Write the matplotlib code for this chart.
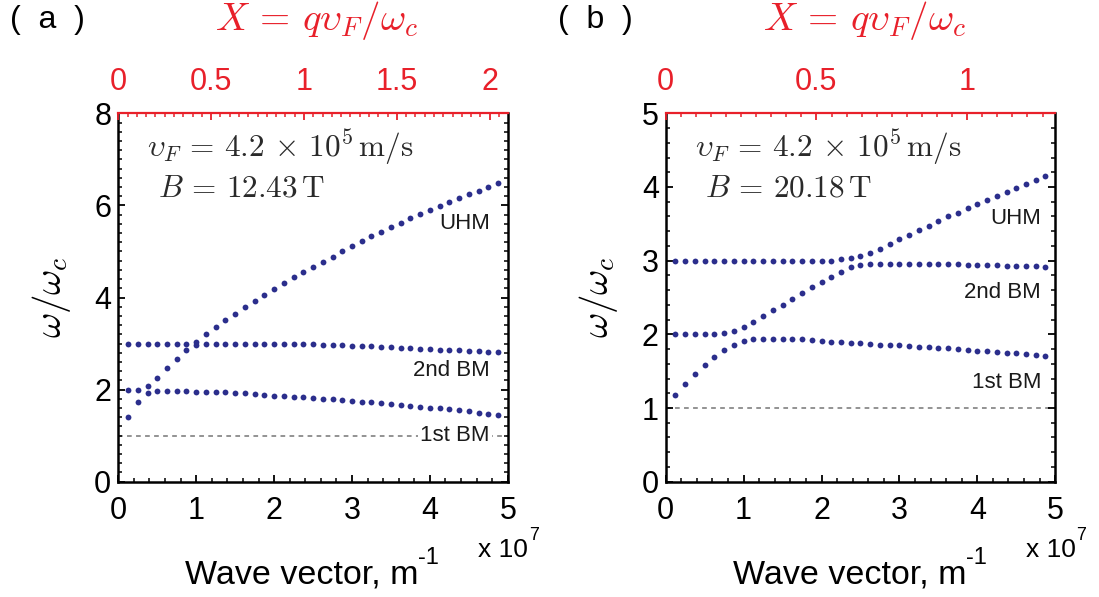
import numpy as np
import matplotlib.pyplot as plt
from matplotlib.ticker import MultipleLocator

plt.rcParams['font.family'] = ['Liberation Sans', 'DejaVu Sans']
plt.rcParams['mathtext.fontset'] = 'cm'

my_red = '#E8202A'
my_blue = '#2B2E8C'
my_gray = '#8A8A8A'

# wave vector in units of 1e7 m^-1
q = [0.125, 0.25, 0.375, 0.5, 0.625, 0.75, 0.875, 1.0, 1.125, 1.25,
     1.375, 1.5, 1.625, 1.75, 1.875, 2.0, 2.125, 2.25, 2.375, 2.5,
     2.625, 2.75, 2.875, 3.0, 3.125, 3.25, 3.375, 3.5, 3.625, 3.75,
     3.875, 4.0, 4.125, 4.25, 4.375, 4.5, 4.625, 4.75, 4.875]

# (a) B = 12.43 T
a_low = [1.41, 1.72, 1.93, 1.96, 1.96, 1.96, 1.96, 1.95, 1.95, 1.94,
         1.94, 1.93, 1.92, 1.90, 1.89, 1.87, 1.86, 1.85, 1.83, 1.82,
         1.80, 1.79, 1.77, 1.76, 1.74, 1.72, 1.71, 1.69, 1.67, 1.65,
         1.63, 1.61, 1.59, 1.57, 1.55, 1.53, 1.50, 1.48, 1.45]
a_mid = [2.00, 2.00, 2.07, 2.26, 2.47, 2.67, 2.85, 2.97, 3.00, 3.00,
         3.00, 3.00, 3.00, 2.99, 2.99, 2.99, 2.99, 2.98, 2.98, 2.98,
         2.97, 2.97, 2.96, 2.95, 2.95, 2.94, 2.93, 2.92, 2.91, 2.90,
         2.89, 2.88, 2.87, 2.86, 2.85, 2.84, 2.83, 2.82, 2.81]
a_up = [3.00, 3.00, 3.00, 3.00, 3.00, 3.00, 3.00, 3.04, 3.20, 3.36,
        3.51, 3.65, 3.79, 3.93, 4.06, 4.19, 4.32, 4.44, 4.56, 4.67,
        4.78, 4.89, 5.01, 5.12, 5.22, 5.33, 5.43, 5.53, 5.62, 5.72,
        5.81, 5.90, 5.99, 6.07, 6.15, 6.24, 6.32, 6.40, 6.48]

# (b) B = 20.18 T
b_low = [1.17, 1.32, 1.46, 1.58, 1.69, 1.79, 1.86, 1.91, 1.93, 1.93,
         1.93, 1.93, 1.93, 1.93, 1.92, 1.91, 1.90, 1.89, 1.88, 1.88,
         1.87, 1.86, 1.85, 1.85, 1.84, 1.83, 1.83, 1.82, 1.81, 1.80,
         1.79, 1.78, 1.77, 1.76, 1.75, 1.74, 1.73, 1.72, 1.70]
b_mid = [2.00, 2.00, 2.00, 2.00, 2.01, 2.02, 2.04, 2.10, 2.17, 2.25,
         2.33, 2.40, 2.48, 2.56, 2.64, 2.71, 2.78, 2.85, 2.91, 2.94,
         2.96, 2.96, 2.96, 2.96, 2.96, 2.96, 2.95, 2.95, 2.95, 2.95,
         2.94, 2.94, 2.94, 2.94, 2.93, 2.93, 2.93, 2.93, 2.92]
b_up = [3.00, 3.00, 3.00, 3.00, 3.00, 3.00, 3.00, 3.00, 3.00, 3.00,
        3.00, 3.00, 3.00, 3.00, 3.00, 3.00, 3.00, 3.02, 3.035, 3.06,
        3.11, 3.16, 3.22, 3.29, 3.35, 3.415, 3.47, 3.54, 3.60, 3.65,
        3.71, 3.77, 3.82, 3.88, 3.93, 3.985, 4.035, 4.09, 4.15]

panels = ['(  a  )', '(  b  )']
B_text = [r'$B\, =\, 12.43\,\mathrm{T}$', r'$B\, =\, 20.18\,\mathrm{T}$']
X_max = [2.097, 1.292]          # X = q vF / wc at q = 5e7
X_ticks = [[0, 0.5, 1, 1.5, 2], [0, 0.5, 1]]
X_ticklabels = [['0', '0.5', '1', '1.5', '2'], ['0', '0.5', '1']]
y_max = [8, 5]
y_major = [2, 1]
# (x, y) in data units for the mode labels, right aligned
lab_uhm = [(4.77, 5.6), (4.82, 3.57)]
lab_2nd = [(4.77, 2.42), (4.82, 2.57)]
lab_1st = [(4.77, 1.01), (4.82, 1.35)]

data = [(a_low, a_mid, a_up), (b_low, b_mid, b_up)]

W, H = 1099, 597
fig = plt.figure(figsize=(W/100, H/100), dpi=100)
ax_left = [118.3, 665.7]
ax_w = 389.5
ax_top_px, ax_bot_px = 113.3, 481.7

for i in range(2):
    ax = fig.add_axes([ax_left[i]/W, 1 - ax_bot_px/H, ax_w/W, (ax_bot_px - ax_top_px)/H])

    for branch in data[i]:
        ax.plot(q, branch, 'o', ms=4.2, color=my_blue, mec='none', zorder=3)

    ax.axhline(1, color=my_gray, lw=1.3, dashes=(2.6, 2.4), zorder=1)

    ax.set_xlim(0, 5)
    ax.set_ylim(0, y_max[i])
    ax.xaxis.set_major_locator(MultipleLocator(1))
    ax.xaxis.set_minor_locator(MultipleLocator(0.2))
    ax.yaxis.set_major_locator(MultipleLocator(y_major[i]))
    ax.yaxis.set_minor_locator(MultipleLocator(0.2))
    ax.tick_params(axis='both', which='major', direction='in', length=5, width=1.3,
                   labelsize=22, right=True, top=False)
    ax.tick_params(axis='both', which='minor', direction='in', length=2.8, width=1.1,
                   right=True, top=False)
    ax.tick_params(axis='x', pad=10)
    ax.tick_params(axis='y', pad=5)
    for s in ['left', 'right', 'bottom']:
        ax.spines[s].set_linewidth(1.8)
    ax.spines['top'].set_visible(False)

    # top axis in units of X
    axt = ax.twiny()
    axt.set_xlim(0, X_max[i])
    axt.set_xticks(X_ticks[i])
    axt.set_xticklabels(X_ticklabels[i])
    axt.xaxis.set_minor_locator(MultipleLocator(0.05))
    axt.tick_params(axis='x', which='major', direction='in', length=5, width=1.3,
                    colors=my_red, labelsize=22, pad=12)
    axt.tick_params(axis='x', which='minor', direction='in', length=2.8, width=1.1,
                    colors=my_red)
    for s in ['left', 'right', 'bottom']:
        axt.spines[s].set_visible(False)
    axt.spines['top'].set_color(my_red)
    axt.spines['top'].set_linewidth(1.6)

    # parameters
    ax.text(0.074, 0.906, r'$\upsilon_F\, =\, 4.2\,\times\, 10^5\,\mathrm{m/s}$',
            transform=ax.transAxes, fontsize=22.5, ha='left', va='center', color='#2a2a2a')
    ax.text(0.102, 0.797, B_text[i], transform=ax.transAxes, fontsize=22.5,
            ha='left', va='center', color='#2a2a2a')

    # mode labels
    ax.text(*lab_uhm[i], 'UHM', fontsize=16, ha='right', va='center', color='#1a1a1a')
    ax.text(*lab_2nd[i], '2nd BM', fontsize=16, ha='right', va='center', color='#1a1a1a')
    t1 = ax.text(*lab_1st[i], '1st BM', fontsize=16, ha='right', va='center',
                 color='#1a1a1a', zorder=2)
    if i == 0:
        t1.set_bbox(dict(facecolor='white', edgecolor='none', pad=1.5))

    # titles and labels
    cx = (ax_left[i] + ax_w/2 + 4)/W
    fig.text(cx, 1 - 21/H, r'$X\, =\, q\upsilon_F/\omega_c$', color=my_red,
             fontsize=28, ha='center', va='center')
    fig.text((ax_left[i] - 108)/W, 1 - 5/H, panels[i], fontsize=23, ha='left', va='top')
    fig.text((ax_left[i] - 67)/W, 1 - 297/H, r'$\omega/\omega_c$', fontsize=28,
             rotation=90, ha='center', va='center')
    tx = fig.text((ax_left[i] + 67)/W, 1 - 583/H, 'Wave vector, m', fontsize=24.5,
                  ha='left', va='baseline')
    ax.annotate('-1', xy=(1, 0), xycoords=tx, xytext=(-0.5, 19), textcoords='offset points',
                fontsize=17, ha='left', va='baseline')
    tm = fig.text((ax_left[i] + 360)/W, 1 - 557/H, 'x 10', fontsize=19, ha='left', va='baseline')
    ax.annotate('7', xy=(1, 0), xycoords=tm, xytext=(0.5, 16), textcoords='offset points',
                fontsize=13, ha='left', va='baseline')

fig.savefig('out.png', dpi=100)
